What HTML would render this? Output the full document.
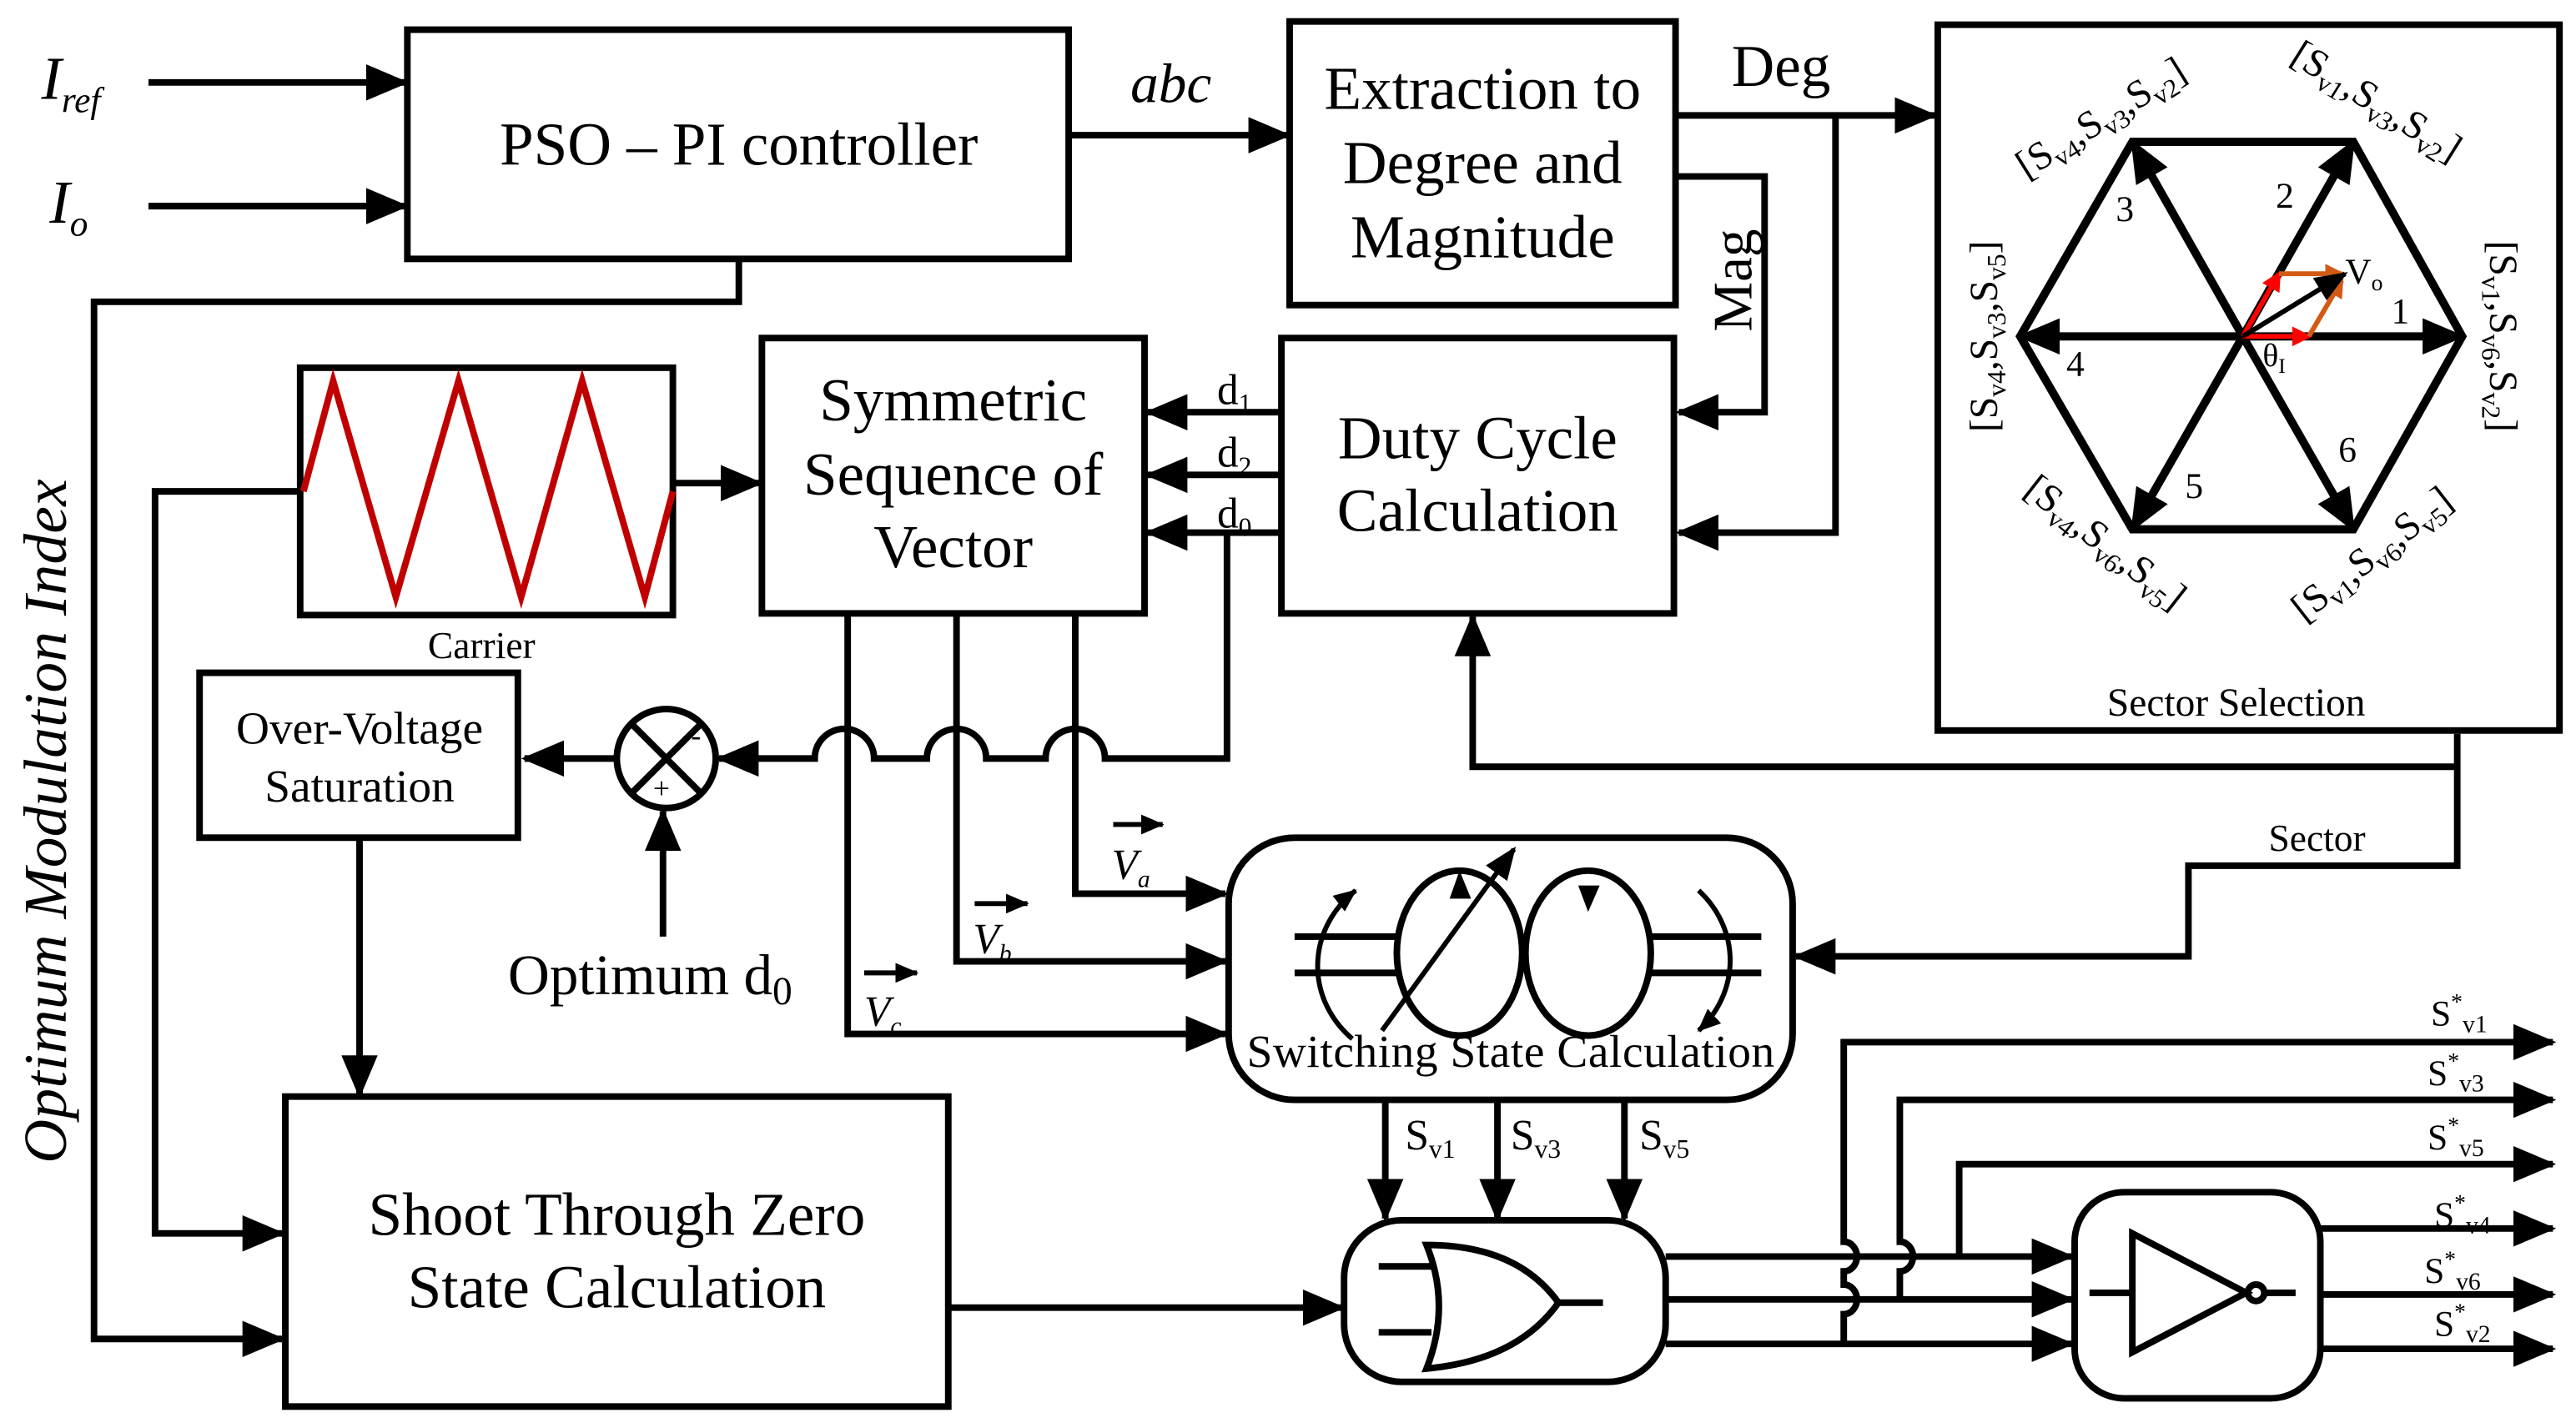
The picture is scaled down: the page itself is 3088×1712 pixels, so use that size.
<!DOCTYPE html>
<html><head><meta charset="utf-8"><style>
html,body{margin:0;padding:0;background:#fff;}
svg{display:block;}
text{font-family:"Liberation Serif",serif;fill:#000;}
</style></head><body>
<svg width="3088" height="1712" viewBox="0 0 1562 866" xmlns="http://www.w3.org/2000/svg">
<defs>
<marker id="a" markerUnits="userSpaceOnUse" markerWidth="26" markerHeight="22" refX="24" refY="11" orient="auto"><path d="M0,0 L26,11 L0,22 Z" fill="#000"/></marker>
<marker id="s" markerUnits="userSpaceOnUse" markerWidth="20" markerHeight="16" refX="18" refY="8" orient="auto"><path d="M0,0 L20,8 L0,16 Z" fill="#000"/></marker>
<marker id="t" markerUnits="userSpaceOnUse" markerWidth="14" markerHeight="12" refX="13" refY="6" orient="auto"><path d="M0,0 L14,6 L0,12 Z" fill="#000"/></marker>
<marker id="r" markerUnits="userSpaceOnUse" markerWidth="12" markerHeight="12" refX="10" refY="6" orient="auto"><path d="M0,0 L12,6 L0,12 Z" fill="#f00"/></marker>
<marker id="o" markerUnits="userSpaceOnUse" markerWidth="12" markerHeight="12" refX="10" refY="6" orient="auto"><path d="M0,0 L12,6 L0,12 Z" fill="#d35a14"/></marker>
</defs>
<g fill="none" stroke="#000" stroke-width="4">
<line x1="90" y1="50" x2="246" y2="50" marker-end="url(#a)"/>
<line x1="90" y1="125" x2="246" y2="125" marker-end="url(#a)"/>
<rect x="247" y="18" width="401" height="139"/>
<line x1="648" y1="82" x2="781" y2="82" marker-end="url(#a)"/>
<rect x="782" y="13" width="234" height="172"/>
<line x1="1016" y1="70" x2="1173" y2="70" marker-end="url(#a)"/>
<polyline points="1113,70 1113,323 1018,323" marker-end="url(#a)"/>
<polyline points="1016,107 1070,107 1070,250 1018,250" marker-end="url(#a)"/>
<rect x="777" y="205" width="238" height="167"/>
<rect x="462" y="205" width="232" height="167"/>
<line x1="777" y1="250" x2="696" y2="250" marker-end="url(#a)"/>
<line x1="777" y1="288" x2="696" y2="288" marker-end="url(#a)"/>
<line x1="777" y1="323" x2="696" y2="323" marker-end="url(#a)"/>
<path d="M744,323 L744,460 L670,460 A18,18 0 0 0 634,460 L598,460 A18,18 0 0 0 562,460 L530,460 A18,18 0 0 0 494,460 L436,460" marker-end="url(#a)"/>
<circle cx="404" cy="460" r="30"/>
<line x1="383" y1="439" x2="425" y2="481"/><line x1="425" y1="439" x2="383" y2="481"/>
<line x1="374" y1="460" x2="318" y2="460" marker-end="url(#a)"/>
<line x1="402" y1="568" x2="402" y2="492" marker-end="url(#a)"/>
<rect x="121" y="408" width="193" height="100"/>
<line x1="218" y1="508" x2="218" y2="664" marker-end="url(#a)"/>
<rect x="182" y="223" width="226" height="150"/>
<line x1="408" y1="293" x2="461" y2="293" marker-end="url(#a)"/>
<polyline points="182,298 94,298 94,748 171,748" marker-end="url(#a)"/>
<polyline points="448,157 448,183 57,183 57,812 171,812" marker-end="url(#a)"/>
<rect x="173" y="665" width="402" height="188"/>
<line x1="575" y1="793" x2="814" y2="793" marker-end="url(#a)"/>
<polyline points="652,372 652,542 743,542" marker-end="url(#a)"/>
<polyline points="580,372 580,583 743,583" marker-end="url(#a)"/>
<polyline points="514,372 514,627 743,627" marker-end="url(#a)"/>
<line x1="675" y1="500" x2="705" y2="500" marker-end="url(#t)" stroke-width="3"/>
<line x1="591" y1="548" x2="623" y2="548" marker-end="url(#t)" stroke-width="3"/>
<line x1="524" y1="590" x2="556" y2="590" marker-end="url(#t)" stroke-width="3"/>
<rect x="745" y="508" width="342" height="159" rx="40"/>
<ellipse cx="885" cy="578" rx="38" ry="50"/>
<ellipse cx="963" cy="578" rx="38" ry="50"/>
<line x1="785" y1="568" x2="847" y2="568"/><line x1="785" y1="590" x2="847" y2="590"/>
<line x1="1001" y1="568" x2="1068" y2="568"/><line x1="1001" y1="590" x2="1068" y2="590"/>
<path d="M820,630 A65,60 0 0 1 822,540" marker-end="url(#t)" stroke-width="3"/>
<path d="M1030,540 A65,60 0 0 1 1030,625" marker-end="url(#t)" stroke-width="3"/>
<line x1="838" y1="625" x2="918" y2="515" marker-end="url(#s)" stroke-width="3"/>
<path d="M879,545 L892,545 L885,528 Z" fill="#000" stroke="none"/>
<path d="M957,537 L970,537 L963,553 Z" fill="#000" stroke="none"/>
<polyline points="1490,445 1490,525 1327,525 1327,580 1089,580" marker-end="url(#a)"/>
<polyline points="1490,465 893,465 893,374" marker-end="url(#a)"/>
<rect x="1175" y="15" width="377" height="428"/>
<polygon points="1493,204 1427,86 1293,86 1225,204 1293,321 1427,321" stroke-width="5"/>
<g stroke-width="5">
<line x1="1360" y1="204" x2="1493" y2="204" marker-end="url(#a)"/>
<line x1="1360" y1="204" x2="1225" y2="204" marker-end="url(#a)"/>
<line x1="1360" y1="204" x2="1427" y2="86" marker-end="url(#a)"/>
<line x1="1360" y1="204" x2="1293" y2="86" marker-end="url(#a)"/>
<line x1="1360" y1="204" x2="1293" y2="321" marker-end="url(#a)"/>
<line x1="1360" y1="204" x2="1427" y2="321" marker-end="url(#a)"/>
</g>
<line x1="1360" y1="204" x2="1382" y2="166" stroke="#f00" marker-end="url(#r)" stroke-width="3"/>
<line x1="1360" y1="204" x2="1400" y2="204" stroke="#f00" marker-end="url(#r)" stroke-width="3"/>
<line x1="1382" y1="166" x2="1420" y2="166" stroke="#d35a14" marker-end="url(#o)" stroke-width="3"/>
<line x1="1400" y1="204" x2="1420" y2="170" stroke="#d35a14" marker-end="url(#o)" stroke-width="3"/>
<line x1="1360" y1="204" x2="1422" y2="166" marker-end="url(#s)" stroke-width="3"/>
<line x1="840" y1="667" x2="840" y2="739" marker-end="url(#a)"/>
<line x1="908" y1="667" x2="908" y2="739" marker-end="url(#a)"/>
<line x1="985" y1="667" x2="985" y2="739" marker-end="url(#a)"/>
<rect x="815" y="740" width="195" height="98" rx="35"/>
<path d="M865,755 Q920,755 945,790 Q920,825 865,830 Q880,792 865,755 Z"/>
<line x1="836" y1="768" x2="868" y2="768"/><line x1="836" y1="808" x2="868" y2="808"/>
<line x1="945" y1="790" x2="972" y2="790"/>
<line x1="1010" y1="762" x2="1256" y2="762" marker-end="url(#a)"/>
<line x1="1010" y1="788" x2="1256" y2="788" marker-end="url(#a)"/>
<line x1="1010" y1="815" x2="1256" y2="815" marker-end="url(#a)"/>
<path d="M1118,815 L1118,797 A8,9 0 0 0 1118,779 L1118,771 A8,9 0 0 0 1118,753 L1118,632 L1548,632" marker-end="url(#a)"/>
<path d="M1152,788 L1152,771 A8,9 0 0 0 1152,753 L1152,667 L1548,667" marker-end="url(#a)"/>
<polyline points="1188,762 1188,706 1548,706" marker-end="url(#a)"/>
<rect x="1258" y="723" width="149" height="125" rx="30"/>
<polygon points="1293,748 1293,820 1362,784"/>
<circle cx="1368" cy="784" r="5"/>
<line x1="1267" y1="784" x2="1293" y2="784"/><line x1="1373" y1="784" x2="1392" y2="784"/>
<line x1="1407" y1="745" x2="1548" y2="745" marker-end="url(#a)"/>
<line x1="1407" y1="785" x2="1548" y2="785" marker-end="url(#a)"/>
<line x1="1407" y1="818" x2="1548" y2="818" marker-end="url(#a)"/>
</g>
<polyline points="184,298 202,231 240,362 278,231 316,362 353,231 391,362 408,298" fill="none" stroke="#c00000" stroke-width="4"/>
<g font-size="37">
<text x="25" y="60" font-style="italic">I<tspan font-size="22" dy="8">ref</tspan></text>
<text x="30" y="135" font-style="italic">I<tspan font-size="22" dy="8">o</tspan></text>
<text x="448" y="100" text-anchor="middle" textLength="290">PSO – PI controller</text>
<text x="710" y="62" text-anchor="middle" font-style="italic" font-size="34">abc</text>
<text x="899" y="66" text-anchor="middle">Extraction to</text>
<text x="899" y="111" text-anchor="middle">Degree and</text>
<text x="899" y="156" text-anchor="middle">Magnitude</text>
<text x="1080" y="52" text-anchor="middle" font-size="36">Deg</text>
<text transform="translate(1062,170) rotate(-90)" text-anchor="middle" font-size="34">Mag</text>
<text x="896" y="278" text-anchor="middle">Duty Cycle</text>
<text x="896" y="322" text-anchor="middle">Calculation</text>
<text x="578" y="255" text-anchor="middle">Symmetric</text>
<text x="578" y="300" text-anchor="middle">Sequence of</text>
<text x="578" y="344" text-anchor="middle">Vector</text>
<text x="374" y="749" text-anchor="middle">Shoot Through Zero</text>
<text x="374" y="793" text-anchor="middle">State Calculation</text>
<text x="308" y="603" font-size="35">Optimum d<tspan font-size="24" dy="6">0</tspan></text>
<text transform="translate(40,498) rotate(-90)" text-anchor="middle" font-style="italic" textLength="415">Optimum Modulation Index</text>
</g>
<g font-size="26">
<text x="738" y="245">d<tspan font-size="16" dy="5">1</tspan></text>
<text x="738" y="283">d<tspan font-size="16" dy="5">2</tspan></text>
<text x="738" y="320">d<tspan font-size="16" dy="5">0</tspan></text>
<text x="218" y="451" text-anchor="middle" font-size="28">Over-Voltage</text>
<text x="218" y="486" text-anchor="middle" font-size="28">Saturation</text>
<text x="419" y="452" font-size="18">-</text>
<text x="396" y="484" font-size="18">+</text>
<text x="916" y="647" text-anchor="middle" font-size="28" textLength="320">Switching State Calculation</text>
<text x="674" y="533" font-style="italic">V<tspan font-size="15" dy="5">a</tspan></text>
<text x="590" y="578" font-style="italic">V<tspan font-size="15" dy="5">b</tspan></text>
<text x="524" y="622" font-style="italic">V<tspan font-size="15" dy="5">c</tspan></text>
<text x="852" y="697">S<tspan font-size="16" dy="5">v1</tspan></text>
<text x="916" y="697">S<tspan font-size="16" dy="5">v3</tspan></text>
<text x="994" y="697">S<tspan font-size="16" dy="5">v5</tspan></text>
</g>
<g font-size="22">
<text x="292" y="399" text-anchor="middle" font-size="23">Carrier</text>
<text x="1405" y="516" text-anchor="middle" font-size="23">Sector</text>
<text x="1356" y="434" text-anchor="middle" font-size="24">Sector Selection</text>
<text x="1474" y="622">S<tspan font-size="14" dy="-10">*</tspan><tspan font-size="15" dy="14">v1</tspan></text>
<text x="1472" y="658">S<tspan font-size="14" dy="-10">*</tspan><tspan font-size="15" dy="14">v3</tspan></text>
<text x="1472" y="697">S<tspan font-size="14" dy="-10">*</tspan><tspan font-size="15" dy="14">v5</tspan></text>
<text x="1476" y="744">S<tspan font-size="14" dy="-10">*</tspan><tspan font-size="15" dy="14">v4</tspan></text>
<text x="1470" y="778">S<tspan font-size="14" dy="-10">*</tspan><tspan font-size="15" dy="14">v6</tspan></text>
<text x="1476" y="810">S<tspan font-size="14" dy="-10">*</tspan><tspan font-size="15" dy="14">v2</tspan></text>
<text x="1380" y="126">2</text><text x="1283" y="134">3</text>
<text x="1450" y="196">1</text><text x="1253" y="228">4</text>
<text x="1325" y="302">5</text><text x="1418" y="280">6</text>
<text x="1422" y="172">V<tspan font-size="14" dy="4">o</tspan></text>
<text x="1372" y="222" font-size="20">θ<tspan font-size="13" dy="4">I</tspan></text>
</g>
<g font-size="24">
<text transform="translate(1437,68) rotate(32)" text-anchor="middle">[S<tspan font-size="16" dy="5">v1</tspan><tspan dy="-5">,S</tspan><tspan font-size="16" dy="5">v3</tspan><tspan dy="-5">,S</tspan><tspan font-size="16" dy="5">v2</tspan><tspan dy="-5">]</tspan></text>
<text transform="translate(1278,78) rotate(-32)" text-anchor="middle">[S<tspan font-size="16" dy="5">v4</tspan><tspan dy="-5">,S</tspan><tspan font-size="16" dy="5">v3</tspan><tspan dy="-5">,S</tspan><tspan font-size="16" dy="5">v2</tspan><tspan dy="-5">]</tspan></text>
<text transform="translate(1211,204) rotate(-90)" text-anchor="middle">[S<tspan font-size="16" dy="5">v4</tspan><tspan dy="-5">,S</tspan><tspan font-size="16" dy="5">v3</tspan><tspan dy="-5">,S</tspan><tspan font-size="16" dy="5">v5</tspan><tspan dy="-5">]</tspan></text>
<text transform="translate(1510,204) rotate(90)" text-anchor="middle">[S<tspan font-size="16" dy="5">v1</tspan><tspan dy="-5">,S</tspan><tspan font-size="16" dy="5">v6</tspan><tspan dy="-5">,S</tspan><tspan font-size="16" dy="5">v2</tspan><tspan dy="-5">]</tspan></text>
<text transform="translate(1272,335) rotate(38)" text-anchor="middle">[S<tspan font-size="16" dy="5">v4</tspan><tspan dy="-5">,S</tspan><tspan font-size="16" dy="5">v6</tspan><tspan dy="-5">,S</tspan><tspan font-size="16" dy="5">v5</tspan><tspan dy="-5">]</tspan></text>
<text transform="translate(1443,342) rotate(-38)" text-anchor="middle">[S<tspan font-size="16" dy="5">v1</tspan><tspan dy="-5">,S</tspan><tspan font-size="16" dy="5">v6</tspan><tspan dy="-5">,S</tspan><tspan font-size="16" dy="5">v5</tspan><tspan dy="-5">]</tspan></text>
</g>
</svg>
</body></html>
